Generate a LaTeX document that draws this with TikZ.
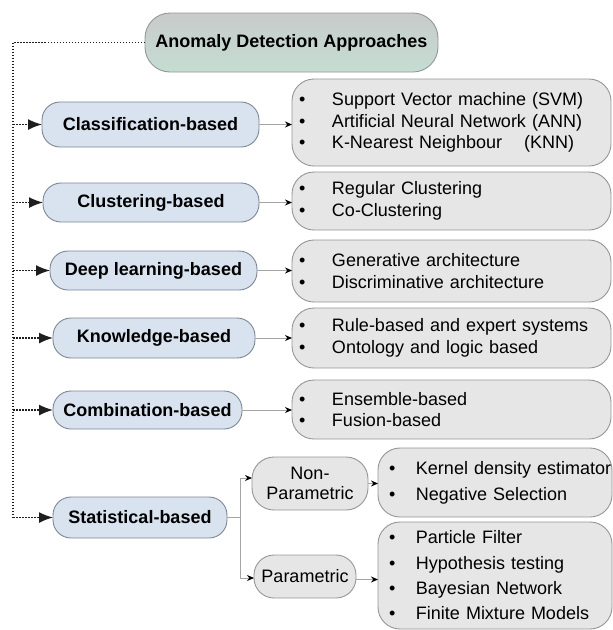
\documentclass[tikz,border=0pt]{standalone}
\usepackage{fontspec}
\setmainfont{Liberation Sans}
\usetikzlibrary{arrows.meta}
\definecolor{catfill}{RGB}{217,227,239}
\definecolor{catdraw}{RGB}{125,135,148}
\definecolor{detfill}{RGB}{230,230,230}
\definecolor{detdraw}{RGB}{150,150,150}
\definecolor{roottop}{RGB}{200,203,202}
\definecolor{rootbot}{RGB}{196,221,211}
\definecolor{conngray}{RGB}{165,165,165}
\definecolor{dotcol}{RGB}{30,30,30}
\newcommand{\bu}[1]{\mbox{\makebox[33pt][l]{\textbullet}#1}}
\newcommand{\bv}[1]{\mbox{\makebox[27pt][l]{\textbullet}#1}}
\begin{document}
\begin{tikzpicture}[x=1pt,y=-1pt,
  txt/.style={font=\fontsize{18}{21.6}\selectfont, inner ysep=0pt, outer sep=0pt},
  cat/.style={txt, font=\fontsize{18}{21.6}\selectfont\bfseries, draw=catdraw, fill=catfill, line width=0.9pt, rounded corners=18pt, inner xsep=0pt},
  det/.style={txt, draw=detdraw, fill=detfill, line width=0.9pt, rounded corners=22pt, align=left},
  sub/.style={txt, draw=detdraw, fill=detfill, line width=0.9pt, align=center, inner xsep=0pt},
  dotline/.style={draw=dotcol, line width=1.5pt, dash pattern=on 1.5pt off 1.5pt},
  dotarrow/.style={dotline, -{Latex[length=14pt,width=11pt]}},
  conn/.style={draw=conngray, line width=0.9pt, -{Stealth[length=7pt,width=6pt,color=black]}},
  connline/.style={draw=conngray, line width=0.9pt}
]
\useasboundingbox (0,0) rectangle (613,630);

% root
\node[txt, font=\fontsize{18}{21.6}\selectfont\bfseries, draw=detdraw, line width=0.9pt,
  top color=roottop, bottom color=rootbot, rounded corners=25pt,
  minimum width=293pt, minimum height=59pt, inner xsep=0pt] (root) at (291.5,42.5) {Anomaly Detection Approaches};

% categories
\node[cat, minimum width=217pt, minimum height=45pt] (cls) at (150.5,124.5) {Classification-based};
\node[cat, minimum width=216pt, minimum height=39pt] (clu) at (151,202.5) {Clustering-based};
\node[cat, minimum width=207pt, minimum height=39pt] (deep) at (153.5,270.5) {Deep learning-based};
\node[cat, minimum width=202pt, minimum height=40pt] (know) at (154,338) {Knowledge-based};
\node[cat, minimum width=189pt, minimum height=38pt] (comb) at (147.5,410) {Combination-based};
\node[cat, minimum width=174pt, minimum height=41pt] (stat) at (140,517.5) {Statistical-based};

% details
\node[det, inner xsep=7pt, text width=305pt, minimum height=87pt] (dcls) at (451.5,122.5)
  {\bu{Support Vector machine (SVM)}\\ \bu{Artificial Neural Network (ANN)}\\ \bu{K-Nearest Neighbour\hspace{22pt}(KNN)}};
\node[det, inner xsep=7pt, text width=305pt, minimum height=58pt] (dclu) at (451.5,201)
  {\bu{Regular Clustering}\\ \bu{Co-Clustering}};
\node[det, inner xsep=7pt, text width=305pt, minimum height=62pt] (ddeep) at (451.5,271)
  {\bu{Generative architecture}\\ \bu{Discriminative architecture}};
\node[det, inner xsep=7pt, text width=305pt, minimum height=60pt] (dknow) at (451.5,338)
  {\bu{Rule-based and expert systems}\\ \bu{Ontology and logic based}};
\node[det, inner xsep=7pt, text width=305pt, minimum height=59pt] (dcomb) at (451.5,409.5)
  {\bu{Ensemble-based}\\ \bu{Fusion-based}};

% statistical sub-branches
\node[sub, rounded corners=22pt, minimum width=116pt, minimum height=53pt,
  font=\fontsize{18}{20.5}\selectfont] (np) at (310,483.5) {Non-\\Parametric};
\node[sub, rounded corners=20pt, minimum width=102pt, minimum height=43pt] (par) at (305,576.5) {Parametric};
\node[det, inner xsep=11pt, text width=212pt, minimum height=69pt,
  font=\fontsize{18}{26}\selectfont] (dnp) at (495,482.5)
  {\bv{Kernel density estimator}\\ \bv{Negative Selection}};
\node[det, inner xsep=11pt, text width=212pt, minimum height=107pt,
  font=\fontsize{18}{25.3}\selectfont] (dpar) at (495,575.5)
  {\bv{Particle Filter}\\ \bv{Hypothesis testing}\\ \bv{Bayesian Network}\\ \bv{Finite Mixture Models}};

% left dotted spine
\coordinate (ltop) at (13,42.5);
\coordinate (lbot) at (13,517.5);
\draw[dotline] (root.west) -- (ltop) -- (lbot);
\foreach \n in {cls,clu,deep,know,comb,stat}
  \draw[dotarrow] (ltop |- \n.west) -- (\n.west);

% category to detail connectors
\foreach \a/\b in {cls/dcls,clu/dclu,deep/ddeep,know/dknow,comb/dcomb}
  \draw[conn] (\a.east) -- (\a.east -| \b.west);

% statistical split
\coordinate (sj) at (240,517.5);
\coordinate (sjt) at (240,478);
\coordinate (sjb) at (240,578);
\draw[connline] (stat.east) -- (sj);
\draw[connline] (sjt) -- (sjb);
\draw[conn] (sjt) -- (sjt -| np.west);
\draw[conn] (sjb) -- (sjb -| par.west);
\draw[conn] (np.east) -- (np.east -| dnp.west);
\draw[conn] ([yshift=-3pt]par.east) -- ([yshift=-3pt]par.east -| dpar.west);
\end{tikzpicture}
\end{document}
